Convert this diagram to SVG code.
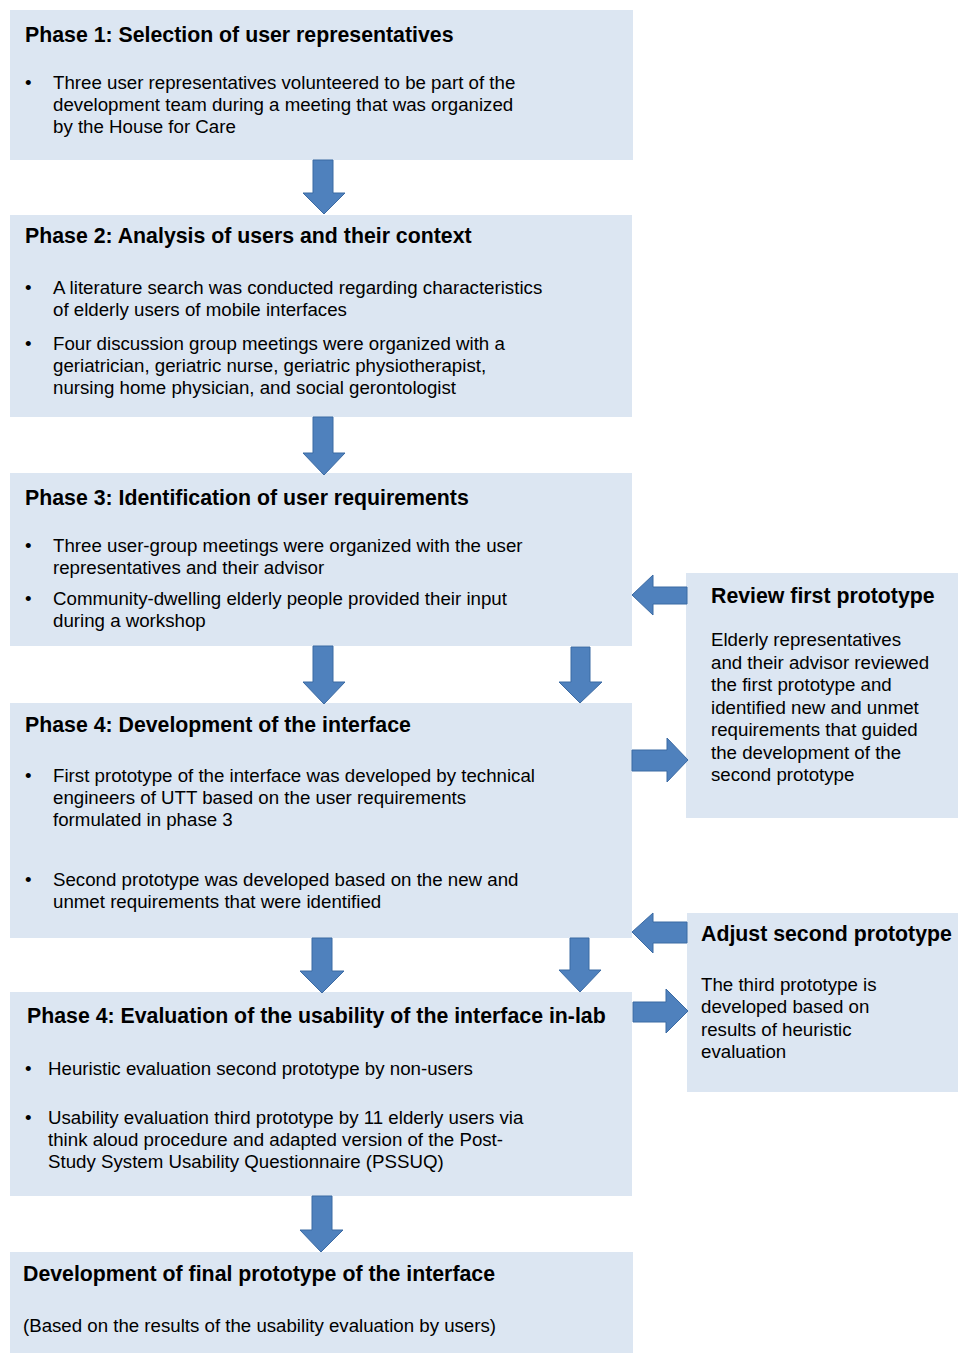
<svg xmlns="http://www.w3.org/2000/svg" width="958" height="1353" viewBox="0 0 958 1353">
<style>
.box{fill:#dce6f2}
.arr{fill:#4f81bd;stroke:#3b6aa3;stroke-width:1}
text{font-family:"Liberation Sans",Arial,sans-serif;fill:#000}
.t{font-size:21.3px;font-weight:bold}
.b{font-size:18.7px}
</style>
<rect width="958" height="1353" fill="#fff"/>
<g id="phase1">
<rect class="box" x="10" y="10" width="623" height="150"/>
<text class="t" x="25" y="41.5">Phase 1: Selection of user representatives</text>
<text class="b" x="25" y="89">•</text>
<text class="b" x="53" y="89">Three user representatives volunteered to be part of the</text>
<text class="b" x="53" y="111">development team during a meeting that was organized</text>
<text class="b" x="53" y="133">by the House for Care</text>
</g>
<g id="phase2">
<rect class="box" x="10" y="215" width="622" height="202"/>
<text class="t" x="25" y="242.5">Phase 2: Analysis of users and their context</text>
<text class="b" x="25" y="293.5">•</text>
<text class="b" x="53" y="293.5">A literature search was conducted regarding characteristics</text>
<text class="b" x="53" y="316">of elderly users of mobile interfaces</text>
<text class="b" x="25" y="349.5">•</text>
<text class="b" x="53" y="349.5">Four discussion group meetings were organized with a</text>
<text class="b" x="53" y="371.5">geriatrician, geriatric nurse, geriatric physiotherapist,</text>
<text class="b" x="53" y="394">nursing home physician, and social gerontologist</text>
</g>
<g id="phase3">
<rect class="box" x="10" y="473" width="622" height="173"/>
<text class="t" x="25" y="504.5">Phase 3: Identification of user requirements</text>
<text class="b" x="25" y="551.5">•</text>
<text class="b" x="53" y="551.5">Three user-group meetings were organized with the user</text>
<text class="b" x="53" y="574">representatives and their advisor</text>
<text class="b" x="25" y="604.5">•</text>
<text class="b" x="53" y="604.5">Community-dwelling elderly people provided their input</text>
<text class="b" x="53" y="626.5">during a workshop</text>
</g>
<g id="phase4">
<rect class="box" x="10" y="703" width="622" height="235"/>
<text class="t" x="25" y="732">Phase 4: Development of the interface</text>
<text class="b" x="25" y="781.5">•</text>
<text class="b" x="53" y="781.5">First prototype of the interface was developed by technical</text>
<text class="b" x="53" y="803.5">engineers of UTT based on the user requirements</text>
<text class="b" x="53" y="825.5">formulated in phase 3</text>
<text class="b" x="25" y="885.5">•</text>
<text class="b" x="53" y="885.5">Second prototype was developed based on the new and</text>
<text class="b" x="53" y="907.5">unmet requirements that were identified</text>
</g>
<g id="phase4eval">
<rect class="box" x="10" y="992" width="622" height="204"/>
<text class="t" x="27" y="1023">Phase 4: Evaluation of the usability of the interface in-lab</text>
<text class="b" x="25" y="1074.5">•</text>
<text class="b" x="48" y="1074.5">Heuristic evaluation second prototype by non-users</text>
<text class="b" x="25" y="1123.5">•</text>
<text class="b" x="48" y="1123.5">Usability evaluation third prototype by 11 elderly users via</text>
<text class="b" x="48" y="1145.5">think aloud procedure and adapted version of the Post-</text>
<text class="b" x="48" y="1168">Study System Usability Questionnaire (PSSUQ)</text>
</g>
<g id="final">
<rect class="box" x="10" y="1252" width="623" height="101"/>
<text class="t" x="23" y="1281" textLength="472" lengthAdjust="spacingAndGlyphs">Development of final prototype of the interface</text>
<text class="b" x="23" y="1331.5" textLength="473" lengthAdjust="spacingAndGlyphs">(Based on the results of the usability evaluation by users)</text>
</g>
<g id="review">
<rect class="box" x="686" y="573" width="272" height="245"/>
<text class="t" x="711" y="603">Review first prototype</text>
<text class="b" x="711" y="646">Elderly representatives</text>
<text class="b" x="711" y="668.5">and their advisor reviewed</text>
<text class="b" x="711" y="691">the first prototype and</text>
<text class="b" x="711" y="713.5">identified new and unmet</text>
<text class="b" x="711" y="736">requirements that guided</text>
<text class="b" x="711" y="758.5">the development of the</text>
<text class="b" x="711" y="781">second prototype</text>
</g>
<g id="adjust">
<rect class="box" x="687" y="913" width="271" height="179"/>
<text class="t" x="701" y="941">Adjust second prototype</text>
<text class="b" x="701" y="990.5">The third prototype is</text>
<text class="b" x="701" y="1013">developed based on</text>
<text class="b" x="701" y="1035.5">results of heuristic</text>
<text class="b" x="701" y="1058">evaluation</text>
</g>
<g id="connectors">
<polygon class="arr" points="313,160 333,160 333,193 345,193 324,214 303,193 313,193"/>
<polygon class="arr" points="313,417 333,417 333,453 345,453 324,475 303,453 313,453"/>
<polygon class="arr" points="313,646 333,646 333,682 345,682 324,704 303,682 313,682"/>
<polygon class="arr" points="571,647 590,647 590,682 602,682 580,703 559,682 571,682"/>
<polygon class="arr" points="312,938 332,938 332,971 344,971 322,993 300,971 312,971"/>
<polygon class="arr" points="570,938 589,938 589,970 601,970 580,992 559,970 570,970"/>
<polygon class="arr" points="312,1196 332,1196 332,1230 343,1230 321,1252 300,1230 312,1230"/>
<polygon class="arr" points="687,587 653,587 653,575 632,595 653,615 653,604 687,604"/>
<polygon class="arr" points="632,750 667,750 667,738 688,760 667,782 667,771 632,771"/>
<polygon class="arr" points="687,922 653,922 653,913 632,932 653,953 653,943 687,943"/>
<polygon class="arr" points="633,1002 666,1002 666,989 688,1011 666,1033 666,1022 633,1022"/>
</g>
</svg>
